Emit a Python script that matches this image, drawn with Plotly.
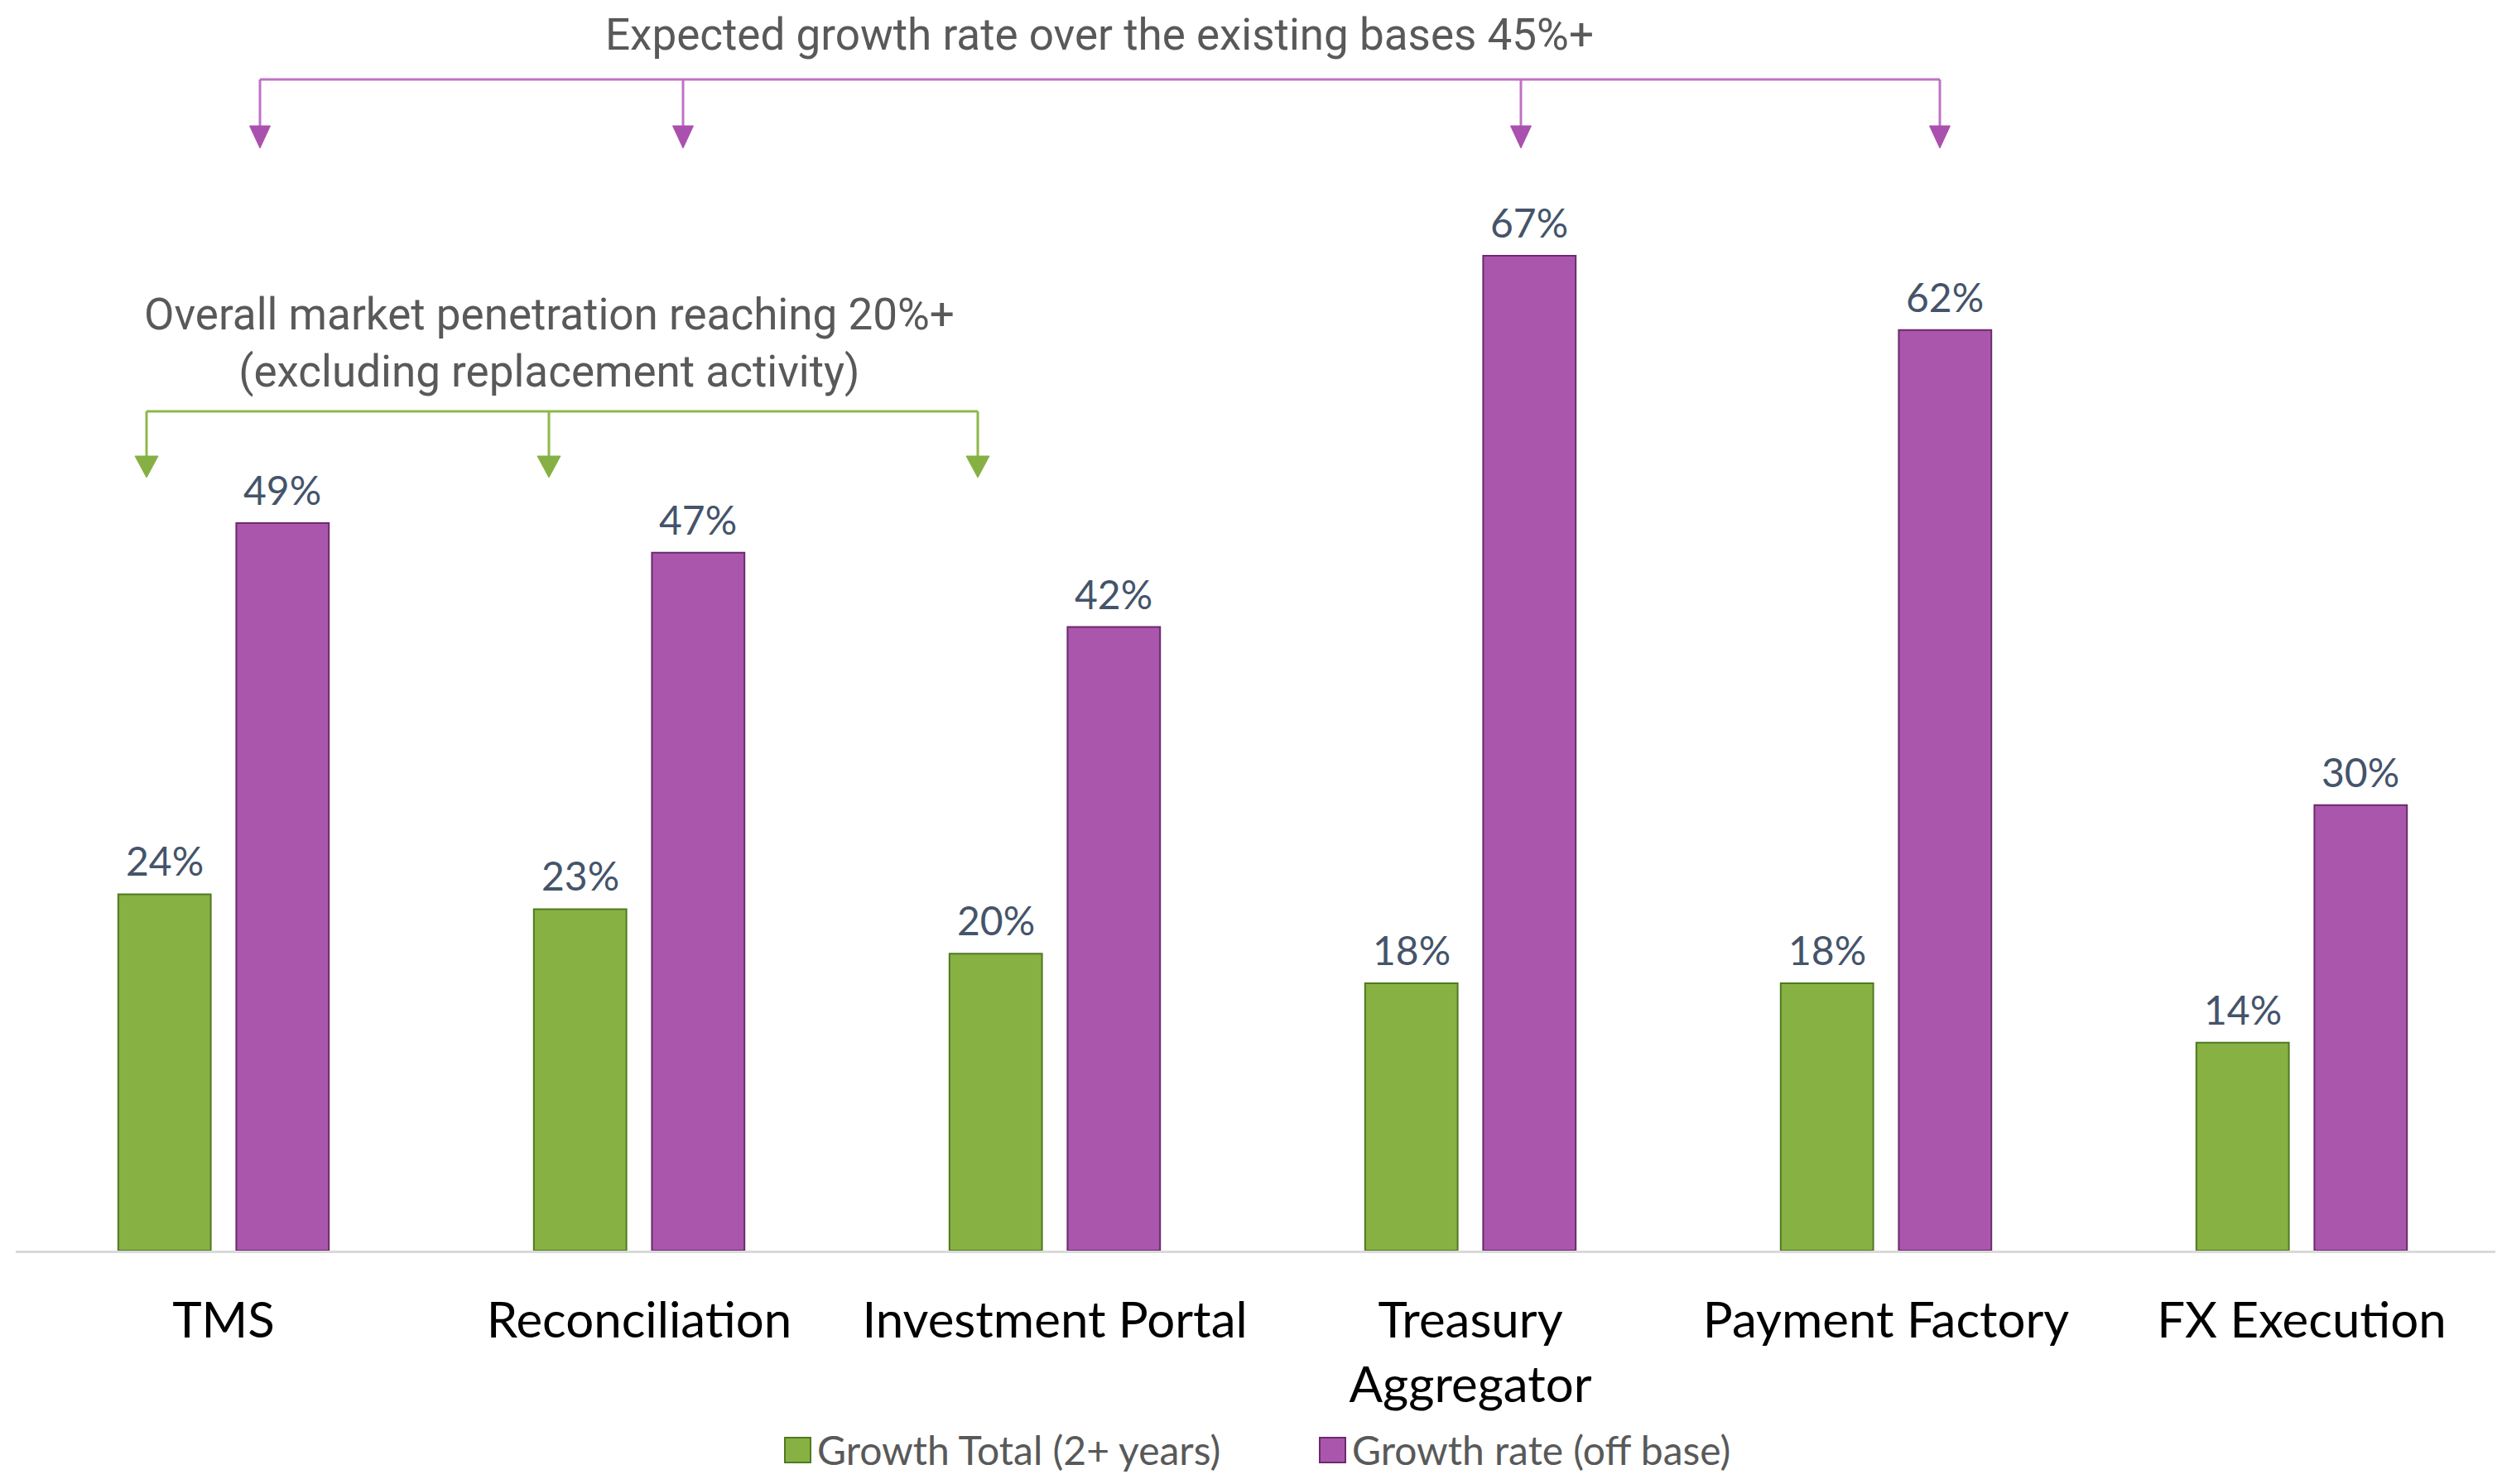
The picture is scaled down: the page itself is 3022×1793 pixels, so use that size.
import plotly.graph_objects as go

# ---- data ----
categories = ["TMS", "Reconciliation", "Investment Portal", "Treasury<br>Aggregator", "Payment Factory", "FX Execution"]
series_names = ["Growth Total (2+ years)", "Growth rate (off base)"]
growth_total = [24, 23, 20, 18, 18, 14]
growth_rate = [49, 47, 42, 67, 62, 30]
top_note = "Expected growth rate over the existing bases 45%+"
mid_note = "Overall market penetration reaching 20%+<br>(excluding replacement activity)"

# ---- styling ----
OFF = 8                      # page body margin
W, H = 3022 - 2 * OFF, 1793 - 2 * OFF
L = 19 - OFF                 # left margin (figure px)
BOTTOM = 1511 - OFF          # x-axis row (figure px)
PX_PER_CAT = 502.0
PX_PER_UNIT = 17.94
GREEN, GREEN_EDGE = "#87B143", "#4F7A20"
PURPLE, PURPLE_EDGE = "#AB56AD", "#6A2B6C"
LBL = "#44546A"
GRAY = "#595959"
BAR_W = 111.8 / PX_PER_CAT
BAR_GAP = 30.8 / PX_PER_CAT
OFFSETS = [-(BAR_W + BAR_GAP / 2), BAR_GAP / 2]


def pxx(x):
    return (x - OFF - L) / (W - L)


def pxy(y):
    return (BOTTOM - (y - OFF)) / BOTTOM


x_idx = list(range(len(categories)))
x_max = -0.5 + (W - L) / PX_PER_CAT
y_max = BOTTOM / PX_PER_UNIT

fig = go.Figure()
annotations = []
shapes = []
for vals, name, col, edge, off in [
    (growth_total, series_names[0], GREEN, GREEN_EDGE, OFFSETS[0]),
    (growth_rate, series_names[1], PURPLE, PURPLE_EDGE, OFFSETS[1]),
]:
    fig.add_trace(go.Bar(
        x=x_idx, y=vals, name=name, width=BAR_W, offset=off,
        marker=dict(color=col, line=dict(color=edge, width=2)),
        showlegend=False,
    ))
    for xi, v in zip(x_idx, vals):
        annotations.append(dict(
            x=xi + off + BAR_W / 2, y=v, xref="x", yref="y", text=f"{v}%",
            showarrow=False, xanchor="center", yanchor="bottom", yshift=10,
            font=dict(family="Lato", size=48, color=LBL)))


def bracket(xs, y_line, y_base, y_tip, half_w, line_col, head_col):
    shapes.append(dict(type="line", xref="paper", yref="paper",
                       x0=pxx(xs[0]), x1=pxx(xs[-1]), y0=pxy(y_line), y1=pxy(y_line),
                       line=dict(color=line_col, width=3)))
    for x in xs:
        shapes.append(dict(type="line", xref="paper", yref="paper",
                           x0=pxx(x), x1=pxx(x), y0=pxy(y_line), y1=pxy(y_base),
                           line=dict(color=line_col, width=3)))
        path = "M {},{} L {},{} L {},{} Z".format(
            pxx(x - half_w), pxy(y_base), pxx(x + half_w), pxy(y_base), pxx(x), pxy(y_tip))
        shapes.append(dict(type="path", xref="paper", yref="paper", path=path,
                           fillcolor=head_col, line=dict(color=head_col, width=1)))


bracket([314, 825, 1837, 2343], 96, 152, 179, 12.5, "#BF72C4", "#AA50AE")
bracket([177, 663, 1181], 497, 551, 577, 14, "#8DB84A", "#86B043")

annotations.append(dict(text=top_note, xref="paper", yref="paper",
                        x=pxx(1328), y=pxy(42), showarrow=False,
                        xanchor="center", yanchor="middle",
                        font=dict(family="Roboto", size=53, color=GRAY)))
annotations.append(dict(text=mid_note, xref="paper", yref="paper",
                        x=pxx(663), y=pxy(414), showarrow=False,
                        xanchor="center", yanchor="middle",
                        font=dict(family="Roboto", size=53, color=GRAY)))

# custom legend
LEG_Y = 1751
leg_items = [(948, GREEN, GREEN_EDGE), (1594, PURPLE, PURPLE_EDGE)]
for (lx, col, edge), name in zip(leg_items, series_names):
    shapes.append(dict(type="rect", xref="paper", yref="paper",
                       x0=pxx(lx), x1=pxx(lx + 31), y0=pxy(LEG_Y - 14), y1=pxy(LEG_Y + 16),
                       fillcolor=col, line=dict(color=edge, width=2)))
    annotations.append(dict(text=name, xref="paper", yref="paper",
                            x=pxx(lx + 38), y=pxy(LEG_Y), showarrow=False,
                            xanchor="left", yanchor="middle", borderpad=0,
                            font=dict(family="Lato", size=48, color=GRAY)))

fig.update_layout(
    width=W, height=H,
    margin=dict(l=L, r=0, t=0, b=H - BOTTOM, pad=0),
    plot_bgcolor="white", paper_bgcolor="white",
    barmode="overlay",
    shapes=shapes, annotations=annotations,
    xaxis=dict(range=[-0.5, x_max], tickmode="array", tickvals=x_idx, ticktext=categories,
               showline=True, linecolor="#D9D9D9", linewidth=3, showgrid=False,
               zeroline=False, ticks="", ticklabelstandoff=30,
               tickfont=dict(family="Lato", size=60, color="black")),
    yaxis=dict(range=[0, y_max], visible=False, showgrid=False, zeroline=False),
    showlegend=False,
)

fig.write_html("out.html")
